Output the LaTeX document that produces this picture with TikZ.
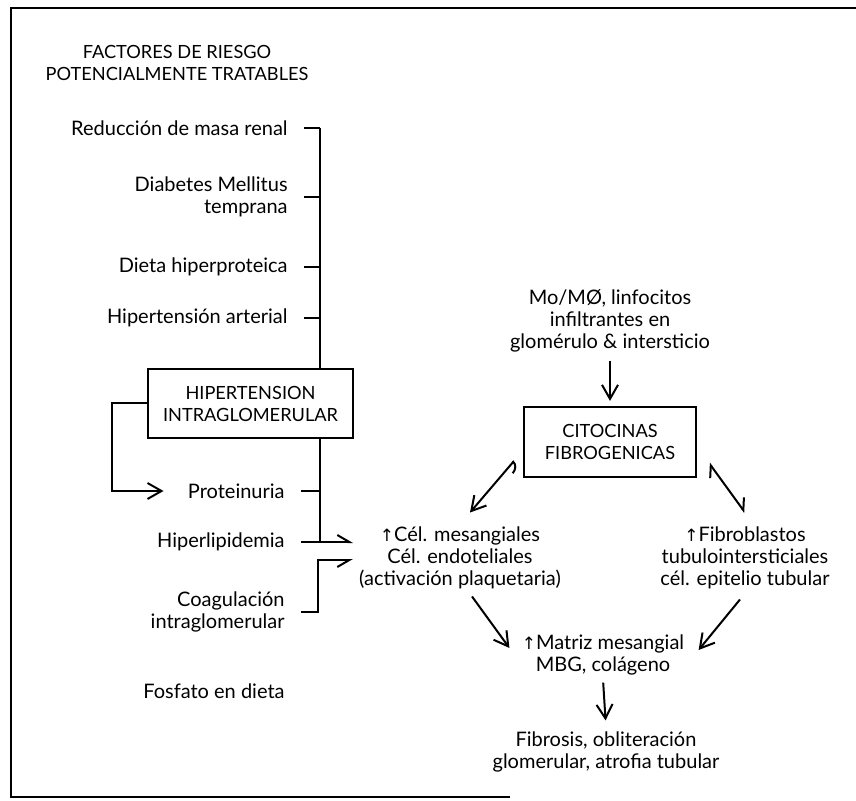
\documentclass[tikz,border=0pt]{standalone}
\usepackage{fontspec}
\setmainfont{Lato}
\newfontfamily\symf{DejaVu Sans}
\usetikzlibrary{arrows.meta,calc}
\newcommand{\upar}{{\symf\fontsize{8.5}{11}\selectfont ↑}}
\begin{document}
\begin{tikzpicture}[x=0.5pt,y=-0.5pt,
  every node/.style={font=\fontsize{10}{11}\selectfont, inner sep=2pt},
  caps/.style={font=\fontsize{9.1}{11}\selectfont},
  lbl/.style={align=center},
  rlbl/.style={align=right, anchor=east},
  boxn/.style={draw, line width=1.1pt, align=center, caps},
  ln/.style={line width=1pt},
  tipb/.style={line width=1pt, -{Straight Barb[length=7pt,width=8pt]}},
]
\useasboundingbox (0,0) rectangle (856,801);
% frame
\draw[line width=1.3pt] (856,8) -- (11,8) -- (11,797) -- (510,797);

% left column
\node[lbl, caps] (title) at (177,63) {FACTORES DE RIESGO\\POTENCIALMENTE TRATABLES};
\node[rlbl] (red) at (292,128) {Reducción de masa renal};
\node[rlbl] (dm) at (292,197) {Diabetes Mellitus\\temprana};
\node[rlbl] (dieta) at (292,267) {Dieta hiperproteica};
\node[rlbl] (hta) at (292,318) {Hipertensión arterial};
\node[boxn, minimum width=102.5pt, minimum height=34.5pt] (hig) at (250.5,403.5) {HIPERTENSION\\INTRAGLOMERULAR};
\node[rlbl] (prot) at (289,491) {Proteinuria};
\node[rlbl] (hiper) at (289,542) {Hiperlipidemia};
\node[rlbl] (coag) at (289,612) {Coagulación\\intraglomerular};
\node[rlbl] (fosf) at (289,691) {Fosfato en dieta};

\coordinate (bus) at (320,0);
\coordinate (hipTip) at (353,542);
\coordinate (coagTip) at (353,560);

\foreach \n in {red,dm,dieta,hta,prot}
  \draw[ln] ($(\n.east)+(12,0)$) -- (\n.east -| bus);
\draw[ln] (red.east -| bus) -- (bus |- hig.north);
\draw[ln] (bus |- hig.south) -- (bus |- hiper.east);
\draw[tipb] (hig.west) -- ++(-35,0) |- ($(prot.west)+(-20,0)$);
\draw[line width=1pt, -{Straight Barb[harpoon,length=6pt,width=7pt]}] ($(hiper.east)+(12,0)$) -- (hipTip);
\draw[line width=1pt, -{Straight Barb[harpoon,swap,length=6pt,width=7pt]}] ($(coag.east)+(12,0)$) -| ($(coagTip)+(-35,0)$) -- (coagTip);

% right column
\node[lbl] (mo) at (610,321) {Mo/MØ, linfocitos\\infiltrantes en\\glomérulo \& intersticio};
\node[boxn, minimum width=86pt, minimum height=35pt] (cit) at (610,442) {CITOCINAS\\FIBROGENICAS};
\node[lbl] (cel) at (460,558) {\upar Cél. mesangiales\\Cél. endoteliales\\(activación plaquetaria)};
\node[lbl] (fib) at (745,558) {\upar Fibroblastos\\tubulointersticiales\\cél. epitelio tubular};
\node[lbl] (mat) at (603,655) {\upar Matriz mesangial\\MBG, colágeno};
\node[lbl] (fibro) at (606,752) {Fibrosis, obliteración\\glomerular, atrofia tubular};

\draw[tipb, shorten <=2pt, shorten >=2.5pt] (mo.south) -- (cit.north);
\draw[line width=1pt, {Arc Barb[harpoon,swap,length=5pt,width=8pt]}-{Straight Barb[length=7pt,width=8pt]}]
  ($(cit.south west)+(-9,-17)$) -- ($(cel.north)+(10,-10)$);
\draw[line width=1pt, {Straight Barb[harpoon,length=5pt,width=8pt]}-{Straight Barb[harpoon,length=5pt,width=8pt]}]
  ($(cit.south east)+(12,-15)$) -- ($(fib.north)+(0,-10)$);
\draw[tipb] ($(cel.south)+(12,3)$) -- ($(mat.west)+(-8,-7)$);
\draw[tipb] ($(fib.south)+(-5,6)$) -- ($(mat.east)+(10,-5)$);
\draw[tipb, shorten <=1.5pt, shorten >=3.5pt] (mat.south) -- (fibro.north);
\end{tikzpicture}
\end{document}
